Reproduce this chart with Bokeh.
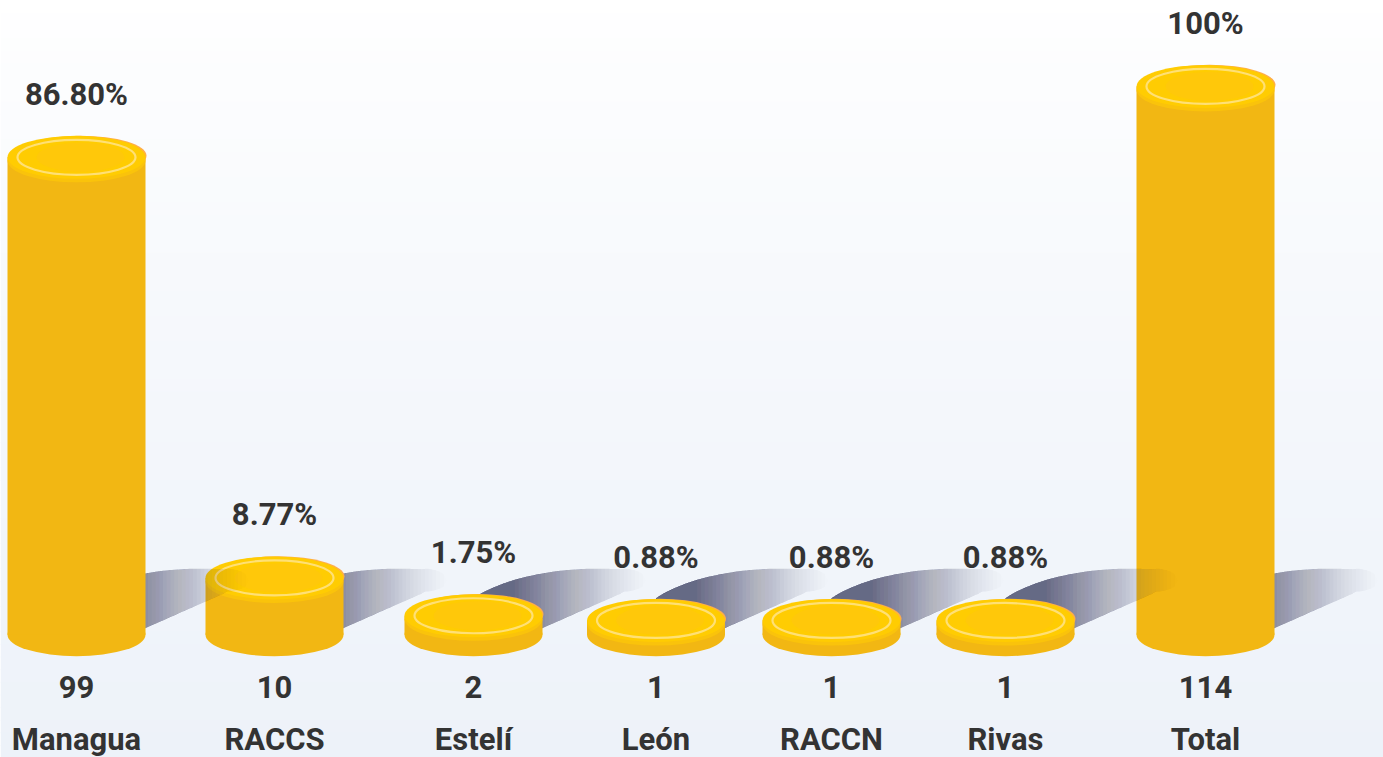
import numpy as np
from bokeh.plotting import figure
from bokeh.models import ColumnDataSource, Range1d, CDSView, IndexFilter
from bokeh.core.properties import value
from bokeh.embed import file_html
from bokeh.resources import INLINE

# ---------------- data ----------------
categories = ["Managua", "RACCS", "Estelí", "León", "RACCN", "Rivas", "Total"]
counts = [99, 10, 2, 1, 1, 1, 114]
percent_labels = ["86.80%", "8.77%", "1.75%", "0.88%", "0.88%", "0.88%", "100%"]

# ---------------- layout / style ----------------
W, H = 1383, 757
x_centers = [76, 274, 473, 655.5, 831, 1005, 1205]   # horizontal slot of each cylinder (px)
BAR_W = 138          # cylinder diameter (px)
ELL_H = 43           # ellipse height (screen px)
FLOOR = -2.0         # floor of the cylinders, in value units (coin thickness)
PX_PER_UNIT = 4.726
ZERO_PX = 624.7      # px from top where value 0 sits
FONT = "Roboto"
FONT_SIZE = "31px"
TXT = "#333333"
SIDE = "#F2B713"
TOP = "#FFCC02"

y_start = (ZERO_PX - H) / PX_PER_UNIT
y_end = ZERO_PX / PX_PER_UNIT

p = figure(width=W, height=H, x_range=Range1d(0, W), y_range=Range1d(y_start, y_end),
           output_backend="svg", toolbar_location=None, min_border=0,
           x_axis_type=None, y_axis_type=None)
p.extra_y_ranges = {"px": Range1d(start=H, end=0)}
p.outline_line_color = None
p.background_fill_color = "#FFFFFF"
p.border_fill_color = "#FFFFFF"
p.xgrid.visible = False
p.ygrid.visible = False

# ---------------- background gradient ----------------
def lerp_color(c0, c1, t):
    a = np.array([int(c0[i:i + 2], 16) for i in (1, 3, 5)], dtype=float)
    b = np.array([int(c1[i:i + 2], 16) for i in (1, 3, 5)], dtype=float)
    c = a + (b - a) * t
    return "#%02x%02x%02x" % tuple(int(round(v)) for v in c)

NB = 60
band = H / NB
bg_top = [i * band for i in range(NB)]
bg_bot = [(i + 1) * band + 1 for i in range(NB)]
bg_col = [lerp_color("#FFFFFF", "#EDF2F9", min(1.0, ((i + 0.5) / NB) ** 0.8)) for i in range(NB)]
p.quad(left=0, right=W, top=bg_top, bottom=bg_bot, fill_color=bg_col,
       line_color=None, y_range_name="px")

# ---------------- shared source ----------------
src = ColumnDataSource(dict(
    x=x_centers,
    cat=categories,
    val=counts,
    pct=percent_labels,
    floor=[FLOOR] * len(counts),
    rim_y=[v - 0.75 for v in counts],
    tint_x=[x + 4 for x in x_centers],
    tint_y=[v + 0.35 for v in counts],
))

floor_px = ZERO_PX - FLOOR * PX_PER_UNIT


def shadow_layers(cx):
    """Comet-like shadow to the right of a cylinder, as nested layers that build a gradient."""
    fl = floor_px
    x0, x1 = cx + 0.0, cx + 173.0
    n = 46
    xs_grid = np.linspace(x0, x1, n + 1)

    def top(x):
        if x <= cx + 150:
            return fl - 66 * np.sqrt(max(0.0, 1 - ((x - (cx + 125)) / 150) ** 2))
        return fl - 54 - 12 * np.sqrt(max(0.0, 1 - ((x - (cx + 150)) / 23) ** 2))

    def bot(x):
        if x <= cx + 150:
            return min(fl + 15 - 0.44 * (x - (cx + 20)), fl + 8)
        return fl - 54 + 11 * np.sqrt(max(0.0, 1 - ((x - (cx + 150)) / 23) ** 2))

    def target(x):
        t = (x - (cx + 40)) / (x1 - (cx + 40))
        t = min(max(t, 0.0), 1.0)
        return 0.8 * (1 - t) ** 1.3

    tg = [target(0.5 * (xs_grid[k] + xs_grid[k + 1])) for k in range(n)] + [0.0]
    alphas = [max(0.0, 1 - (1 - tg[k]) / (1 - tg[k + 1])) for k in range(n)]

    xs, ys, al = [], [], []
    for k in range(n):
        pts = xs_grid[: k + 2]
        tx = list(pts)
        ty = [top(x) for x in pts]
        bx = list(pts[::-1])
        by = [bot(x) for x in pts[::-1]]
        xs.append(tx + bx)
        ys.append(ty + by)
        al.append(alphas[k])
    return xs, ys, al


# draw right to left so each shadow lies over the next cylinder but under its own
for i in reversed(range(len(counts))):
    view = CDSView(filter=IndexFilter([i]))
    sx, sy, sa = shadow_layers(x_centers[i])
    p.patches(xs=sx, ys=sy, fill_color="#52557A", fill_alpha=sa, line_color=None,
              y_range_name="px")
    # bottom cap
    p.ellipse(x="x", y="floor", width=BAR_W, height=ELL_H, height_units="screen",
              source=src, view=view, fill_color=SIDE, line_color=None)
    # body
    p.vbar(x="x", bottom="floor", top="val", width=BAR_W, source=src, view=view,
           fill_color=SIDE, line_color=None)
    # front rim just below the top face
    p.ellipse(x="x", y="rim_y", width=BAR_W, height=ELL_H, height_units="screen",
              source=src, view=view, fill_color="#FAC30B", line_color=None)
    # orange tint at the back-right edge
    p.ellipse(x="tint_x", y="tint_y", width=BAR_W - 6, height=ELL_H - 3, height_units="screen",
              source=src, view=view, fill_color="#FFAE48", line_color=None)
    # top face
    p.ellipse(x="x", y="val", width=BAR_W, height=ELL_H, height_units="screen",
              source=src, view=view, fill_color=TOP, line_color=None)
    # subtle warmer shade toward the right of the face
    p.ellipse(x="tint_x", y="val", width=BAR_W - 50, height=ELL_H - 14, height_units="screen",
              source=src, view=view, fill_color="#FFC01E", fill_alpha=0.3, line_color=None)
    # light ring
    p.ellipse(x="x", y="val", width=BAR_W - 20, height=ELL_H - 8, height_units="screen",
              source=src, view=view, fill_color=None, line_color="#FFE38A", line_alpha=0.85,
              line_width=2.2)

# ---------------- texts ----------------
common = dict(text_font=value(FONT), text_font_style="bold", text_font_size=FONT_SIZE,
              text_color=TXT, text_align="center", text_baseline="middle")
p.text(x="x", y="val", text="pct", source=src, y_offset=-63, **common)

src_px = ColumnDataSource(dict(
    x=x_centers,
    cnt=[str(c) for c in counts],
    cat=categories,
    cnt_y=[686] * len(counts),
    cat_y=[739] * len(counts),
))
p.text(x="x", y="cnt_y", text="cnt", source=src_px, y_range_name="px", **common)
p.text(x="x", y="cat_y", text="cat", source=src_px, y_range_name="px", **common)

with open("out.html", "w", encoding="utf-8") as f:
    f.write(file_html(p, INLINE))
